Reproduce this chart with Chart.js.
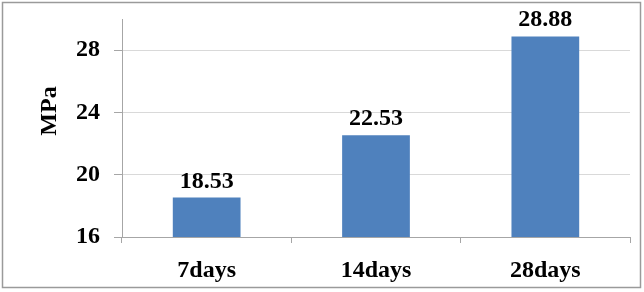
<!DOCTYPE html>
<html>
<head>
<meta charset="utf-8">
<script src="https://cdn.jsdelivr.net/npm/chart.js@4"></script>
<style>
  html, body { margin: 0; padding: 0; background: #fff; }
  #wrap { width: 644px; height: 292px; position: relative; }
</style>
</head>
<body>
<div id="wrap"><canvas id="strengthChart"></canvas></div>
<script>
var categories = ['7days', '14days', '28days'];
var strength = [18.53, 22.53, 28.88];
var yTicks = [16, 20, 24, 28];
var yTitle = 'MPa';

var FONT = '"Liberation Serif", "Times New Roman", serif';

// value labels above each bar, axis title and outer frame
var decorations = {
    id: 'decorations',
    afterDatasetsDraw: function (chart) {
        var ctx = chart.ctx;
        var meta = chart.getDatasetMeta(0);
        ctx.save();
        ctx.font = 'bold 24px ' + FONT;
        ctx.fillStyle = '#000';
        ctx.textAlign = 'center';
        ctx.textBaseline = 'alphabetic';
        meta.data.forEach(function (bar, i) {
            ctx.fillText(strength[i].toFixed(2), bar.x, bar.y - 10);
        });
        ctx.restore();
    },
    afterDraw: function (chart) {
        var ctx = chart.ctx;
        ctx.save();
        ctx.font = 'bold 24px ' + FONT;
        ctx.fillStyle = '#000';
        ctx.textAlign = 'center';
        ctx.textBaseline = 'middle';
        ctx.translate(50, 111);
        ctx.rotate(-Math.PI / 2);
        ctx.fillText(yTitle, 0, 0);
        ctx.restore();

        ctx.save();
        ctx.strokeStyle = '#9a9a9a';
        ctx.lineWidth = 1.5;
        ctx.strokeRect(2.5, 2.5, 638, 285);
        ctx.restore();
    }
};

var ctx = document.getElementById('strengthChart').getContext('2d');
var chart = new Chart(ctx, {
    type: 'bar',
    data: {
        labels: categories,
        datasets: [{
            data: strength,
            backgroundColor: '#4f81bd',
            barPercentage: 0.4,
            categoryPercentage: 1.0
        }]
    },
    options: {
        responsive: true,
        maintainAspectRatio: false,
        animation: false,
        layout: { padding: { left: 62, right: 14, top: 19, bottom: 0 } },
        plugins: {
            legend: { display: false },
            tooltip: { enabled: false }
        },
        scales: {
            x: {
                afterFit: function (axis) {
                    axis.height = 55;
                    axis.paddingLeft = 0;
                    axis.paddingRight = 0;
                },
                grid: {
                    offset: true,
                    drawOnChartArea: false,
                    drawTicks: true,
                    tickLength: 6,
                    color: '#a6a6a6'
                },
                border: { color: '#a6a6a6' },
                ticks: {
                    color: '#000',
                    padding: 16,
                    font: { family: FONT, size: 24, weight: 'bold', lineHeight: 1 }
                }
            },
            y: {
                min: 16,
                max: 30,
                afterBuildTicks: function (axis) {
                    axis.ticks = yTicks.map(function (v) { return { value: v }; });
                },
                afterFit: function (axis) {
                    axis.paddingTop = 0;
                    axis.paddingBottom = 0;
                },
                grid: {
                    color: '#d9d9d9',
                    tickLength: 8,
                    tickColor: '#a6a6a6'
                },
                border: { color: '#a6a6a6' },
                ticks: {
                    color: '#000',
                    padding: 14,
                    font: { family: FONT, size: 24, weight: 'bold', lineHeight: 1 }
                }
            }
        }
    },
    plugins: [decorations]
});
</script>
</body>
</html>
